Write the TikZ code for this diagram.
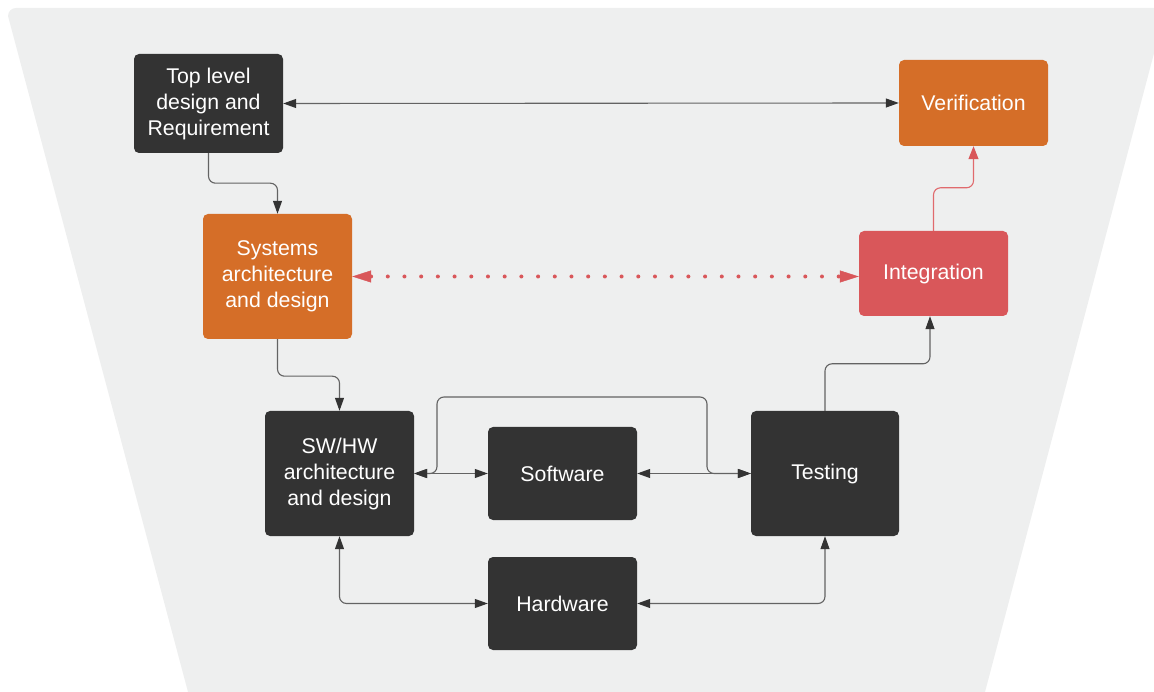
\documentclass[tikz,border=0pt]{standalone}
\usepackage{fontspec}
\setmainfont{Liberation Sans}
\usetikzlibrary{arrows.meta,calc}

\definecolor{panelgray}{HTML}{EEEFEF}
\definecolor{darkbox}{HTML}{333333}
\definecolor{orangebox}{HTML}{D56E28}
\definecolor{redbox}{HTML}{D9575A}
\definecolor{linegray}{HTML}{636363}
\definecolor{redline}{HTML}{E06A6D}

\tikzset{
  block/.style={rectangle, rounded corners=5pt, inner sep=0pt, align=center,
    text=white, font=\fontsize{21.3}{26}\selectfont,
    minimum width=149pt},
  darkblock/.style={block, fill=darkbox},
  orangeblock/.style={block, fill=orangebox},
  redblock/.style={block, fill=redbox},
  conn/.style={draw=linegray, line width=1.1pt, rounded corners=7pt},
  tipdark/.tip={Triangle[length=13pt,width=9pt,color=darkbox,sharp]},
  tipred/.tip={Triangle[length=13pt,width=10pt,color=redbox,sharp]},
  tipbig/.tip={Triangle[length=19pt,width=12pt,color=redbox,sharp,line width=0.5pt]},
  redconn/.style={draw=redline, line width=1.1pt, rounded corners=7pt},
  reddots/.style={draw=redbox, line width=4pt, line cap=round,
    dash pattern=on 0pt off 16.7pt},
}

\begin{document}
\begin{tikzpicture}[x=1pt,y=-1pt]
\useasboundingbox (0,0) rectangle (1154,692);
\clip (0,0) rectangle (1154,692);

% funnel-shaped backdrop
\fill[panelgray] (8,16) [rounded corners=8pt] -- (8,8) [sharp corners] -- (1166,8)
  -- (985,692) -- (188,692) -- cycle;

% blocks
\node[darkblock, minimum height=99pt] (top) at (208.5,103.5)
  {Top level\\design and\\Requirement};
\node[orangeblock, minimum height=86pt] (verif) at (973.5,103) {Verification};
\node[orangeblock, minimum height=125pt] (sys) at (277.5,276.5)
  {Systems\\architecture\\and design};
\node[redblock, minimum height=85pt] (integ) at (933.5,273.5) {Integration};
\node[darkblock, minimum height=125pt] (swhw) at (339.5,473.5)
  {SW/HW\\architecture\\and design};
\node[darkblock, minimum height=93pt] (soft) at (562.5,473.5) {Software};
\node[darkblock, minimum width=148pt, minimum height=125pt] (test) at (825,473.5) {Testing};
\node[darkblock, minimum height=93pt] (hard) at (562.5,603.5) {Hardware};

% connectors
\draw[conn, tipdark-tipdark] (top.east) -- (verif.west);
\draw[conn, -tipdark] (top.south) -- ++(0,30) -| (sys.north);
\draw[conn, -tipdark] (sys.south) -- ++(0,37) -| (swhw.north);
\draw[reddots, tipbig-tipbig] (sys.east) -- (sys.east -| integ.west);
\draw[redconn, -tipred] (integ.north) -- ++(0,-43) -| (verif.south);
\draw[conn, -tipdark] (test.north) -- ++(0,-47) -| ([xshift=-3.5pt]integ.south);

\draw[conn, tipdark-tipdark] (swhw.east) -- (soft.west);
\draw[conn, tipdark-tipdark] (soft.east) -- (test.west);
\draw[conn, tipdark-tipdark] (swhw.east) -| (437,397) -| (707,473.5) -- (test.west);

\draw[conn, tipdark-tipdark] (swhw.south) |- (hard.west);
\draw[conn, tipdark-tipdark] (test.south) |- (hard.east);
\end{tikzpicture}
\end{document}
